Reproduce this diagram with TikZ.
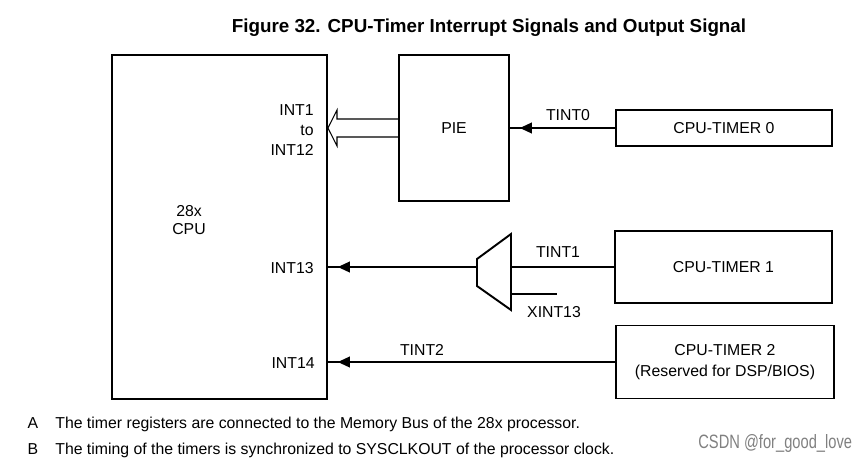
\documentclass[tikz,border=0pt]{standalone}
\usepackage{fontspec}
\setmainfont{Liberation Sans}
\usetikzlibrary{arrows.meta,decorations.markings}

\begin{document}
\begin{tikzpicture}[x=0.02cm,y=-0.02cm,
  box/.style={draw,line width=1.1pt,inner sep=0pt,align=center,font=\fontsize{9}{11.9}\selectfont},
  wire/.style={line width=0.6pt},
  sig/.style={wire,postaction={decorate},
    decoration={markings,mark=at position -0.2cm with {\arrow{Triangle[length=0.24cm,width=0.22cm]}}}},
  lbl/.style={inner sep=0pt,font=\fontsize{9}{11.3}\selectfont}]
\useasboundingbox (0,0) rectangle (865,463);

%title
\node[font=\bfseries\fontsize{10.7}{13}\selectfont] (title) at (489,28) {Figure 32. CPU-Timer Interrupt Signals and Output Signal};

%CPU
\node[box,minimum width=4.3cm,minimum height=6.88cm] (cpu) at (219.5,227) {};
\node[lbl,align=center,font=\fontsize{9}{10.3}\selectfont] (cpulbl) at (189,220) {28x\\CPU};

%PIE
\node[box,minimum width=2.2cm,minimum height=2.92cm] (pie) at (454,128) {PIE};

%timers
\node[box,minimum width=4.32cm,minimum height=0.72cm] (tm0) at (724,128) {CPU-TIMER 0};
\node[box,minimum width=4.34cm,minimum height=1.44cm] (tm1) at (723.5,267) {CPU-TIMER 1};
\node[box,minimum width=4.36cm,minimum height=1.46cm] (tm2) at (725,362) {CPU-TIMER 2\\(Reserved for DSP/BIOS)};

%TINT0
\draw[sig] (tm0.west) -- (pie.east);
\node[lbl] (tint0) at (568,115) {TINT0};

%INT1 to INT12
\coordinate (H1) at (399,119);
\coordinate (H2) at (337,119);
\coordinate (H3) at (337,110);
\coordinate (H4) at (337,146);
\coordinate (H5) at (337,137);
\coordinate (H6) at (399,137);
\draw[wire] (H1) -- (H2) -- (H3) -- (cpu.east |- pie.west) -- (H4) -- (H5) -- (H6);
\node[lbl,anchor=east,align=right] (int1) at (314,130) {INT1\\to\\INT12};

%mux
\coordinate (M1) at (477,259);
\coordinate (M2) at (511,234);
\coordinate (M3) at (511,310);
\coordinate (M4) at (477,286);
\draw[line width=1.1pt] (M1) -- (M2) -- (M3) -- (M4) -- cycle;
\coordinate (MI) at (477,267);
\coordinate (MO) at (511,267);
\coordinate (MX) at (511,294);
\coordinate (XE) at (557,294);
\draw[wire] (tm1.west) -- (MO);
\draw[wire] (MX) -- (XE);
\draw[sig] (MI) -- (cpu.east |- MI);
\node[lbl] (tint1) at (558,252) {TINT1};
\node[lbl] (xint13) at (554,312) {XINT13};
\node[lbl,anchor=east] (int13) at (314,268) {INT13};

%INT14
\draw[sig] (tm2.west) -- (cpu.east |- tm2.west);
\node[lbl] (tint2) at (422,350) {TINT2};
\node[lbl,anchor=east] (int14) at (315,363) {INT14};

%notes
\node[lbl,anchor=base] (na) at (33,428.5) {A};
\node[lbl,anchor=base west] (ta) at (55,428.5) {The timer registers are connected to the Memory Bus of the 28x processor.};
\node[lbl,anchor=base] (nb) at (33,454.5) {B};
\node[lbl,anchor=base west] (tb) at (55,454.5) {The timing of the timers is synchronized to SYSCLKOUT of the processor clock.};
\node[lbl,anchor=west,text=black!50,font=\fontsize{11}{13}\selectfont] (mark) at (698,443) {\scalebox{0.76}[1]{CSDN @for\_good\_love}};
\end{tikzpicture}
\end{document}
